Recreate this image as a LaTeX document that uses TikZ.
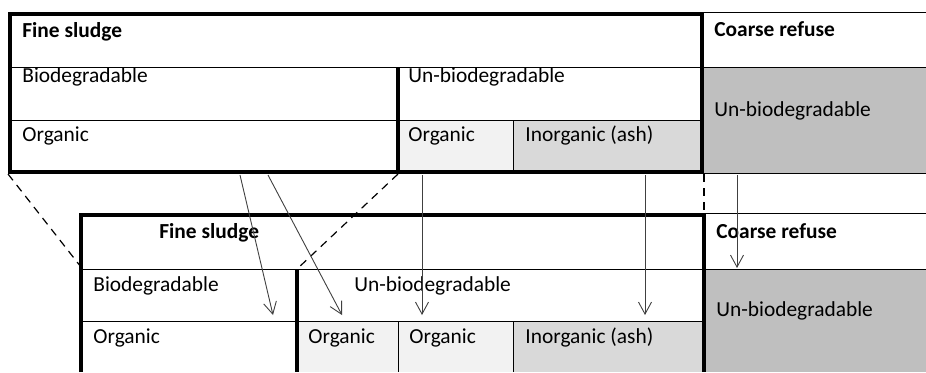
\documentclass[tikz,border=0pt]{standalone}
\usepackage{fontspec}
\setmainfont{Carlito}
\usetikzlibrary{arrows.meta}
\definecolor{paleorg}{HTML}{F2F2F2}
\definecolor{ashgrey}{HTML}{D9D9D9}
\definecolor{coarsegrey}{HTML}{BFBFBF}
\tikzstyle{lbl} = [anchor=base west, inner sep=0pt, font=\fontsize{10.7}{13}\selectfont]
\tikzstyle{hdr} = [anchor=base west, inner sep=0pt, font=\fontsize{10.7}{13}\selectfont\bfseries]

\begin{document}
\begin{tikzpicture}[
x=0.5pt, y=-0.5pt,
heavy/.style = {line width=2pt},
rule/.style = {line width=0.5pt},
flow/.style = {draw=black!75, line width=0.45pt, -{Straight Barb[length=6pt,width=6.5pt]}},
guide/.style = {line width=0.6pt, dash pattern=on 4pt off 3pt}
                    ]
\useasboundingbox (0,0) rectangle (926,372);

% upper table
\fill[paleorg] (398,120) rectangle (513,172);
\fill[ashgrey] (513,120) rectangle (702,172);
\fill[coarsegrey] (704,68) rectangle (926,173);
\draw[rule] (704,12) -- (926,12);
\draw[rule] (10,67) -- (926,67);
\draw[rule] (10,120) -- (704,120);
\draw[rule] (513,120) -- (513,172);
\draw[rule] (704,173) -- (926,173);
\draw[heavy] (10,14) rectangle (702,172);
\draw[heavy] (398,67) -- (398,172);

\node[hdr] (uFine) at (22,37) {Fine sludge};
\node[hdr] (uCoarse) at (714,36) {Coarse refuse};
\node[lbl] (uBio) at (22,82) {Biodegradable};
\node[lbl] (uUnbio) at (408,82) {Un-biodegradable};
\node[lbl] (uOrgA) at (22,141) {Organic};
\node[lbl] (uOrgB) at (408,141) {Organic};
\node[lbl] (uAsh) at (525,141) {Inorganic (ash)};
\node[lbl] (uRest) at (714,116) {Un-biodegradable};

% lower table
\fill[paleorg] (297,321) rectangle (513,372);
\fill[ashgrey] (513,321) rectangle (704,372);
\fill[coarsegrey] (706,269) rectangle (926,372);
\draw[rule] (704,213) -- (926,213);
\draw[rule] (81,269) -- (926,269);
\draw[rule] (79,321) -- (704,321);
\draw[rule] (398,321) -- (398,372);
\draw[rule] (513,321) -- (513,372);
\draw[heavy] (81,372) |- (704,215) -- (704,372);
\draw[heavy] (297,269) -- (297,372);

\node[hdr] (lFine) at (159,238) {Fine sludge};
\node[hdr] (lCoarse) at (716,238) {Coarse refuse};
\node[lbl] (lBio) at (93,291) {Biodegradable};
\node[lbl] (lUnbio) at (354,291) {Un-biodegradable};
\node[lbl] (lOrgA) at (93,343) {Organic};
\node[lbl] (lOrgB) at (308,343) {Organic};
\node[lbl] (lOrgC) at (409,343) {Organic};
\node[lbl] (lAsh) at (525,343) {Inorganic (ash)};
\node[lbl] (lRest) at (716,316) {Un-biodegradable};

% zoom guides
\coordinate (gTL) at (8,174);
\coordinate (gBL) at (81,267);
\coordinate (gTM) at (398,174);
\coordinate (gBM) at (297,269);
\coordinate (gTR) at (704,174);
\coordinate (gBR) at (704,213);
\draw[guide] (gTL) -- (gBL);
\draw[guide] (gTM) -- (gBM);
\draw[guide] (gTR) -- (gBR);

% flows
\coordinate (f1) at (240,175);
\coordinate (f2) at (268,175);
\coordinate (f3) at (422,175);
\coordinate (f4) at (645,175);
\coordinate (f5) at (737,175);
\coordinate (t1) at (273,315);
\coordinate (t2) at (342,315);
\coordinate (t3) at (422,315);
\coordinate (t4) at (645,315);
\coordinate (t5) at (737,268);
\foreach \i in {1,...,5}
  \draw[flow] (f\i) -- (t\i);
\end{tikzpicture}
\end{document}
